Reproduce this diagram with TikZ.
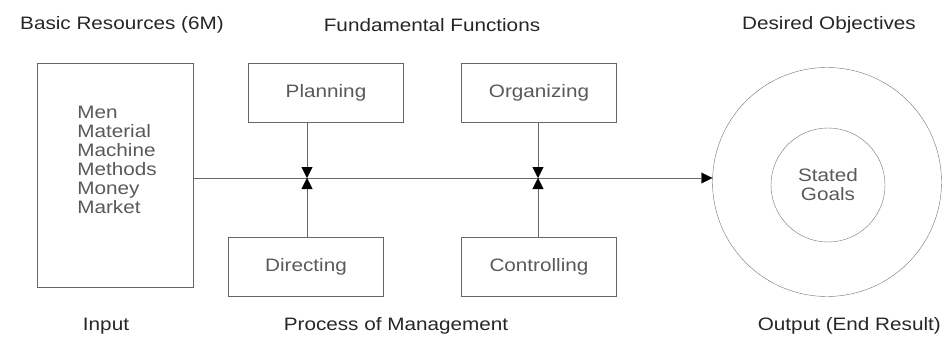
\documentclass[tikz,border=0pt]{standalone}
\usepackage{fontspec}
\setmainfont{Liberation Sans}[FakeStretch=1.15]
\usetikzlibrary{arrows.meta, positioning, calc}

\begin{document}
\begin{tikzpicture}[
    x=1pt, y=-1pt,
    every node/.style={font=\fontsize{18}{19}\selectfont, text=black!85},
    func/.style={rectangle, draw=black!60, minimum width=155pt, minimum height=59pt, text=black!65},
    res/.style={rectangle, draw=black!60, minimum width=156pt, minimum height=224pt},
    ring/.style={circle, draw=black!55, inner sep=0pt},
    arrow/.style={-{Triangle[length=11pt, width=11pt, color=black]}, draw=black!60},
    title/.style={anchor=center}
]
\useasboundingbox (0,0) rectangle (942,342);

% headings
\node (htop1) [title] at (122,25) {Basic Resources (6M)};
\node (htop2) [title] at (432,25) {Fundamental Functions};
\node (htop3) [title] at (829,25) {Desired Objectives};
\node (hbot1) [title] at (106,326) {Input};
\node (hbot2) [title] at (396,326) {Process of Management};
\node (hbot3) [title, anchor=east, inner xsep=1pt] at (942,326) {Output (End Result)};

% input box
\node (res) [res] at (115,175) {};
\node (mlist) [align=left, text=black!65] at (117,160) {Men\\Material\\Machine\\Methods\\Money\\Market};

% functions
\node (plan) [func] at (326,93) {Planning};
\node (org) [func] at (539,93) {Organizing};
\node (dir) [func] at (306,267) {Directing};
\node (ctrl) [func] at (539,267) {Controlling};

% output
\node (obj) [ring, minimum size=229pt] at (827,182) {};
\node (goal) [ring, minimum size=114pt, align=center, text=black!65] at (828,185) {Stated\\Goals};

\coordinate (j1) at (307,178);
\coordinate (j2) at (538,178);

\draw [arrow] (res.east |- j1) -- (obj.west |- j1);
\draw [arrow] (plan.south -| j1) -- (j1);
\draw [arrow] (dir.north -| j1) -- (j1);
\draw [arrow] (org.south -| j2) -- (j2);
\draw [arrow] (ctrl.north -| j2) -- (j2);
\end{tikzpicture}
\end{document}
